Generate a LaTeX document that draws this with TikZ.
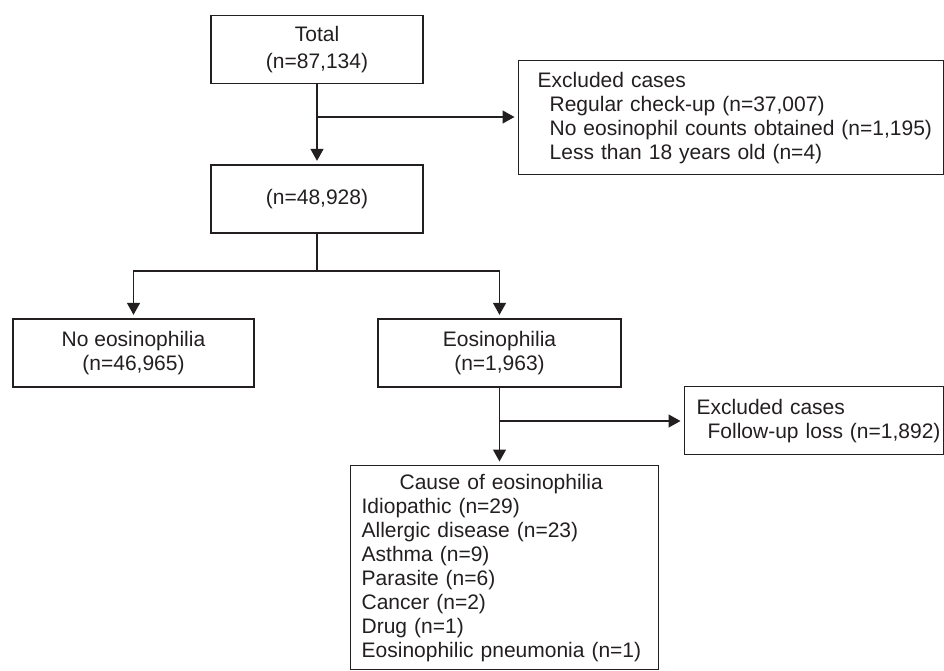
\documentclass[tikz,border=0pt]{standalone}
\usepackage{fontspec}
\setmainfont{Liberation Sans}
\usetikzlibrary{arrows.meta}
\definecolor{ink}{RGB}{35,31,32}

\begin{document}
\begin{tikzpicture}[x=1pt, y=-1pt, font=\fontsize{21}{24}\selectfont, color=ink, line width=1.3pt,
    block/.style={draw, rectangle, inner sep=0pt, align=center, minimum width=212pt, minimum height=68pt},
    listbox/.style={draw, rectangle, anchor=north west, inner xsep=0pt, inner ysep=0pt, align=left},
    arr/.style={-{Triangle[length=12pt, width=13pt]}, shorten >=3.5pt}]
    \useasboundingbox (0,0) rectangle (944,671);

    \node[block] (total) at (317,49.5) {Total\\[3pt](n=87,134)};
    \node[listbox, text width=425pt, minimum height=114pt] (excl1) at (518,60)
      {\hspace*{19pt}Excluded cases\\
       \hspace*{31pt}Regular check-up (n=37,007)\\
       \hspace*{31pt}No eosinophil counts obtained (n=1,195)\\
       \hspace*{31pt}Less than 18 years old (n=4)};
    \node[block] (n48928) at (317,199) {(n=48,928)};
    \node[block, minimum width=241pt] (noeos) at (133.5,353) {No eosinophilia\\(n=46,965)};
    \node[block, minimum width=243pt] (eos) at (499.5,353) {Eosinophilia\\(n=1,963)};
    \node[listbox, text width=259pt, minimum height=68pt] (excl2) at (684,386)
      {\hspace*{12pt}Excluded cases\\
       \hspace*{23pt}Follow-up loss (n=1,892)};
    \node[listbox, text width=308pt, minimum height=204pt] (cause) at (350,465)
      {\hspace*{49pt}Cause of eosinophilia\\
       \hspace*{11pt}Idiopathic (n=29)\\
       \hspace*{11pt}Allergic disease (n=23)\\
       \hspace*{11pt}Asthma (n=9)\\
       \hspace*{11pt}Parasite (n=6)\\
       \hspace*{11pt}Cancer (n=2)\\
       \hspace*{11pt}Drug (n=1)\\
       \hspace*{11pt}Eosinophilic pneumonia (n=1)};

    % branch points
    \coordinate (split1) at (317,117);
    \coordinate (fork) at (317,271);
    \coordinate (split2) at (499.5,421);

    \draw[arr] (total) -- (n48928);
    \draw[arr] (split1) -- (excl1.west |- split1);
    \draw (n48928) -- (fork);
    \draw[arr] (fork) -| (noeos);
    \draw[arr] (fork) -| (eos);
    \draw[arr] (eos) -- (eos |- cause.north);
    \draw[arr] (split2) -- (excl2.west |- split2);
  \end{tikzpicture}
\end{document}
